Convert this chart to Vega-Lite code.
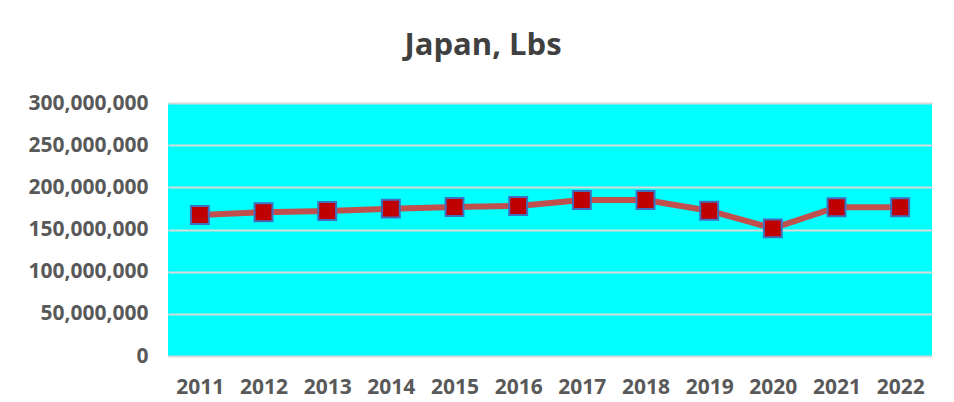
{
  "$schema": "https://vega.github.io/schema/vega-lite/v6.json",
  "autosize": {"type": "none"},
  "width": 764,
  "height": 253,
  "padding": {"left": 168, "top": 103, "right": 22, "bottom": 46},
  "background": "#ffffff",
  "title": {
    "text": "Japan, Lbs",
    "font": "Open Sans",
    "fontSize": 31,
    "fontWeight": "bold",
    "color": "#404040",
    "anchor": "middle",
    "dx": -67,
    "offset": 30
  },
  "data": {
    "values": [
      {"year": "2011", "lbs": 167200000},
      {"year": "2012", "lbs": 170400000},
      {"year": "2013", "lbs": 172000000},
      {"year": "2014", "lbs": 174700000},
      {"year": "2015", "lbs": 176700000},
      {"year": "2016", "lbs": 177900000},
      {"year": "2017", "lbs": 185000000},
      {"year": "2018", "lbs": 185000000},
      {"year": "2019", "lbs": 172300000},
      {"year": "2020", "lbs": 151400000},
      {"year": "2021", "lbs": 176400000},
      {"year": "2022", "lbs": 176400000}
    ]
  },
  "encoding": {
    "x": {
      "field": "year",
      "type": "ordinal",
      "scale": {"type": "point", "padding": 0.5},
      "axis": {
        "title": null,
        "labelAngle": 0,
        "domain": false,
        "ticks": false,
        "grid": false,
        "labelFont": "Open Sans",
        "labelFontSize": 21,
        "labelFontWeight": "bold",
        "labelColor": "#595959",
        "labelPadding": 20
      }
    },
    "y": {
      "field": "lbs",
      "type": "quantitative",
      "scale": {"domain": [0, 300000000], "nice": false},
      "axis": {
        "title": null,
        "values": [0, 50000000, 100000000, 150000000, 200000000, 250000000, 300000000],
        "format": ",.0f",
        "domain": false,
        "ticks": false,
        "grid": true,
        "gridColor": "#d9d9d9",
        "gridWidth": 2,
        "labelFont": "Open Sans",
        "labelFontSize": 21,
        "labelFontWeight": "bold",
        "labelColor": "#595959",
        "labelPadding": 20
      }
    }
  },
  "layer": [
    {
      "mark": {"type": "line", "color": "#C0504D", "strokeWidth": 6}
    },
    {
      "mark": {
        "type": "point",
        "shape": "square",
        "filled": true,
        "size": 320,
        "fill": "#C00000",
        "stroke": "#3F6FBF",
        "strokeWidth": 2,
        "opacity": 1
      }
    }
  ],
  "config": {
    "view": {"fill": "#00FFFF", "stroke": null}
  }
}
